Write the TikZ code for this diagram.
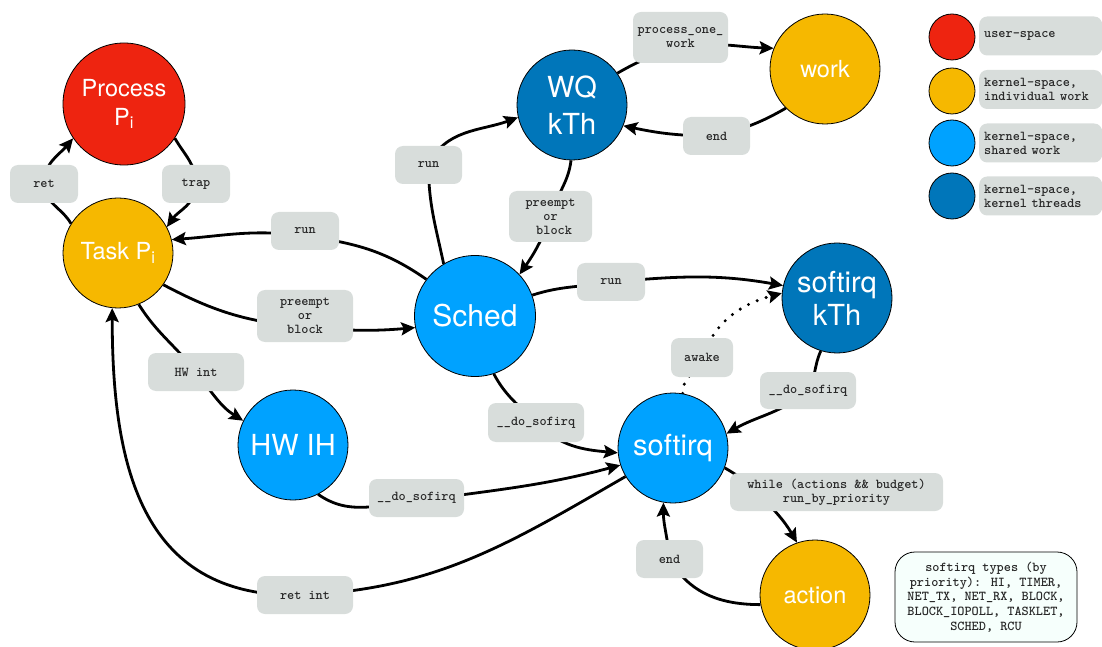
\documentclass[tikz,border=0pt]{standalone}
\usepackage{fontspec}
\setmainfont{TeX Gyre Heros}
\usetikzlibrary{arrows.meta}

\definecolor{userred}{HTML}{EE2410}
\definecolor{kyellow}{HTML}{F6B800}
\definecolor{kblue}{HTML}{00A2FF}
\definecolor{kdark}{HTML}{0076BA}
\definecolor{tagfill}{RGB}{216,221,219}
\definecolor{tagtext}{RGB}{40,40,40}
\definecolor{notefill}{RGB}{246,255,252}

\pgfdeclarelayer{edges}
\pgfsetlayers{edges,main}

\tikzset{
  state/.style={circle, draw=black, line width=0.8pt, text=white, inner sep=0pt,
    minimum size=110pt, align=center},
  bigtxt/.style={font=\fontsize{29}{37}\selectfont},
  medtxt/.style={font=\fontsize{23.5}{29}\selectfont},
  monotxt/.style={font=\ttfamily\bfseries\fontsize{13.6}{14}\selectfont},
  tag/.style={fill=tagfill, rounded corners=8pt, text=tagtext, monotxt, inner sep=0pt,
    minimum width=68pt, minimum height=38pt, align=center},
  legdot/.style={circle, draw=black, line width=0.8pt, inner sep=0pt, minimum size=46pt},
  legtag/.style={tag, anchor=west, minimum width=123pt, minimum height=39pt,
    text width=113pt, align=left},
  arr/.style={line width=2.8pt, -{Stealth[length=14pt,width=13pt,inset=2.5pt]}},
  dotarr/.style={arr, line width=3.4pt, dash pattern=on 0pt off 9.5pt, line cap=round},
}

\begin{document}
\begin{tikzpicture}[x=1pt,y=1pt]
\useasboundingbox (0,0) rectangle (1102,646);

% states
\node[state, fill=userred, minimum size=122pt, medtxt] (P) at (124,542) {Process\\P\textsubscript{i}};
\node[state, fill=kyellow, medtxt] (T) at (118,393) {Task P\textsubscript{i}};
\node[state, fill=kdark, bigtxt] (WQ) at (572,541) {WQ\\kTh};
\node[state, fill=kyellow, medtxt] (W) at (825,577) {work};
\node[state, fill=kblue, minimum size=121pt, font=\fontsize{30}{36}\selectfont] (Sc) at (475,330) {Sched};
\node[state, fill=kdark, font=\fontsize{29}{33}\selectfont] (SK) at (837,348) {softirq\\kTh};
\node[state, fill=kblue, bigtxt] (S) at (673,198) {softirq};
\node[state, fill=kblue, bigtxt] (HW) at (293,201) {HW IH};
\node[state, fill=kyellow, medtxt] (A) at (815,51) {action};

% transition labels
\node[tag] (ret) at (44,462) {ret};
\node[tag] (trap) at (196,462) {trap};
\node[tag] (runT) at (305,415) {run};
\node[tag, minimum width=96pt, minimum height=52pt] (pobT) at (305,330) {preempt\\or\\block};
\node[tag, minimum width=96pt] (hwint) at (196,274) {HW int};
\node[tag, minimum width=67pt] (runWQ) at (428.5,481) {run};
\node[tag, minimum width=83pt, minimum height=51pt] (pobWQ) at (550.5,429.5) {preempt\\or\\\hphantom{x}block};
\node[tag, minimum width=95pt, minimum height=51pt] (pow) at (680.5,608.5) {process\_one\_\\work};
\node[tag, minimum width=67pt] (endW) at (716.5,510) {end};
\node[tag] (runSK) at (611,364) {run};
\node[tag, minimum width=62pt, minimum height=39pt] (awake) at (702,288.5) {awake};
\node[tag, minimum width=96pt, minimum height=37pt] (dsSK) at (808,255.5) {\_\_do\_sofirq};
\node[tag, minimum width=96pt, minimum height=39pt] (dsSched) at (536,223.5) {\_\_do\_sofirq};
\node[tag, minimum width=213pt] (loop) at (836.5,154) {while (actions \&\& budget)\\run\_by\_priority};
\node[tag, minimum width=67pt] (endA) at (669.5,87) {end};
\node[tag, minimum width=95pt] (dsHW) at (416.5,148) {\_\_do\_sofirq};
\node[tag, minimum width=96pt] (retint) at (305,51) {ret int};

% legend
\node[legdot, fill=userred] (c1) at (952,609) {};
\node[legdot, fill=kyellow] (c2) at (952,555) {};
\node[legdot, fill=kblue] (c3) at (952,503) {};
\node[legdot, fill=kdark] (c4) at (952,450) {};
\node[legtag] (l1) at (979,610) {user-space};
\node[legtag] (l2) at (979,556.5) {kernel-space,\\individual work};
\node[legtag] (l3) at (979,503) {kernel-space,\\shared work};
\node[legtag] (l4) at (979,450) {kernel-space,\\kernel threads};

% note
\node[draw=black, line width=0.8pt, fill=notefill, rounded corners=20pt,
  minimum width=182pt, minimum height=90pt, inner sep=0pt, align=center,
  font=\ttfamily\bfseries\fontsize{13.6}{14.7}\selectfont, text=tagtext] (note) at (986,49)
  {softirq types (by\\priority): HI, TIMER,\\NET\_TX, NET\_RX, BLOCK,\\BLOCK\_IOPOLL, TASKLET,\\SCHED, RCU};

% transitions
\begin{pgfonlayer}{edges}
\draw[arr] (P.-34) to[out=-60,in=90] (trap.center) to[out=-90,in=55] (T.28);
\draw[arr] (T.148) to[out=120,in=-90] (ret.center) to[out=90,in=-130] (P.214);
\draw[arr] (Sc.143) to[out=145,in=-8] ([yshift=-5pt]runT.center) to[out=172,in=4] (T.14);
\draw[arr] (T.-35) to[out=-28,in=175] ([yshift=-11pt]pobT.center) to[out=-5,in=185] (Sc.191);
\draw[arr] (T.-68) to[out=-58,in=128] (hwint.center) to[out=-52,in=148] (HW.154);
\draw[arr] (S.211) to[out=210,in=3] (retint.center) to[out=182,in=-90,looseness=1.2] (T.-96);
\draw[arr] (HW.-63) to[out=-35,in=185] ([yshift=-3pt]dsHW.center) to[out=8,in=195] (S.198);
\draw[arr] (Sc.-72) to[out=-62,in=135] (dsSched.center) to[out=-45,in=175] (S.185);
\draw[arr] (Sc.121) to[out=102,in=-90] (runWQ.center) to[out=65,in=200] (WQ.193);
\draw[arr] (WQ.-91) to[out=-97,in=75] (pobWQ.center) to[out=-110,in=55] (Sc.43);
\draw[arr] (WQ.35) to[out=30,in=195] ([yshift=-10pt]pow.center) to[out=10,in=178] (W.158);
\draw[arr] (W.-135) to[out=-150,in=15] (endW.center) to[out=180,in=-12] (WQ.-22);
\draw[arr] (Sc.20) to[out=18,in=190] (runSK.center) to[out=5,in=170] (SK.167);
\draw[dotarr] (S.80) to[out=92,in=-110] (awake.center) to[out=70,in=195] (SK.175);
\draw[arr] (SK.-107) to[out=-115,in=60] (dsSK.center) to[out=-140,in=30] (S.15);
\draw[arr] (S.-21) to[out=-30,in=135] ([xshift=-80pt]loop.center) to[out=-45,in=120] (A.109);
\draw[arr] (A.190) to[out=180,in=-60] (endA.center) to[out=95,in=-90] (S.-100);
\end{pgfonlayer}
\end{tikzpicture}
\end{document}
